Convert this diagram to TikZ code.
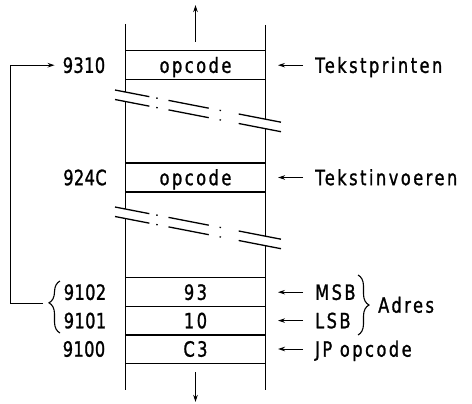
\documentclass[tikz,border=0pt]{standalone}
\usepackage{fontspec}
\setmainfont{DejaVu Sans}[FakeStretch=0.77,LetterSpace=12,FakeBold=1.2]
\newfontfamily\addrfont{DejaVu Sans}[FakeStretch=0.77,LetterSpace=2,FakeBold=1.2]
\usetikzlibrary{arrows.meta,decorations.pathreplacing}
\begin{document}
\begin{tikzpicture}[x=1pt,y=-1pt,
  vline/.style={line width=1.7pt},
  hline/.style={line width=1.2pt},
  brk/.style={line width=1.3pt,dash pattern=on 35pt off 7pt on 1.5pt off 11pt on 41pt off 11pt on 1.5pt off 18pt on 60pt},
  arr/.style={line width=1pt,-{Stealth[length=7pt,width=4.5pt]}},
  txt/.style={inner sep=0pt,text height=15.3pt,text depth=0pt,font=\fontsize{21}{25}\selectfont},
  cell/.style={txt,minimum width=140pt,minimum height=28.4pt},
  addr/.style={txt,font=\fontsize{21}{25}\selectfont\addrfont},
  brc/.style={line width=1.1pt,decorate,decoration={brace,amplitude=11pt,aspect=#1}}]
\useasboundingbox (0,0) rectangle (472,404);

% memory cells
\node[cell] (c1) at (195.5,65.2) {opcode};
\node[cell] (c2) at (195.5,177.5) {opcode};
\node[cell] (c3) at (195.5,292.2) {93};
\node[cell] (c4) at (195.5,320.6) {10};
\node[cell] (c5) at (195.5,349.0) {C3};
\foreach \c in {c1,c2,c3,c4,c5}
  \draw[hline] (\c.north west) -- (\c.north east) (\c.south west) -- (\c.south east);

% vertical walls, interrupted at the breaks
\draw[vline] (125.5,24) -- (125.5,92) (125.5,101.5) -- (125.5,209) (125.5,218.5) -- (125.5,390);
\draw[vline] (265.5,25) -- (265.5,119.2) (265.5,128.7) -- (265.5,236.2) (265.5,245.7) -- (265.5,390);

% break lines
\draw[brk] (115,90) -- (281,122.2);
\draw[brk] (115,99.5) -- (281,131.7);
\draw[brk] (115,207) -- (281,239.2);
\draw[brk] (115,216.5) -- (281,248.7);

% up / down arrows
\coordinate (up0) at (195.5,42);
\coordinate (dn0) at (195.5,372);
\draw[arr] (up0) -- ++(0,-37);
\draw[arr] (dn0) -- ++(0,30);

% addresses
\node[addr] (a1) at (84,65.2) {9310};
\node[addr] (a2) at (85,177.5) {924C};
\node[addr] (a3) at (85,292.2) {9102};
\node[addr] (a4) at (85,320.6) {9101};
\node[addr] (a5) at (84,349.0) {9100};

% right labels
\node[txt,anchor=west] (l1) at (315,65.2) {Tekstprinten};
\node[txt,anchor=west] (l2) at (315,177.5) {Tekstinvoeren};
\node[txt,anchor=west] (l3) at (315,292.2) {MSB};
\node[txt,anchor=west] (l4) at (315,320.6) {LSB};
\node[txt,anchor=west] (l5) at (315,349.0) {JP opcode};
\node[txt,anchor=west] (adres) at (378,305) {Adres};
\foreach \l in {l1,l2,l3,l4,l5}
  \draw[arr] ([xshift=-12pt]\l.west) -- ++(-25,0);

% braces
\draw[brc=0.58] (60,333) -- (60,281);
\draw[brc=0.5] (358,275) -- (358,335);

% feedback jump
\coordinate (fb) at (43,303);
\draw[arr] (fb) -- ++(-33,0) |- ([xshift=-8pt]a1.west);
\end{tikzpicture}
\end{document}
